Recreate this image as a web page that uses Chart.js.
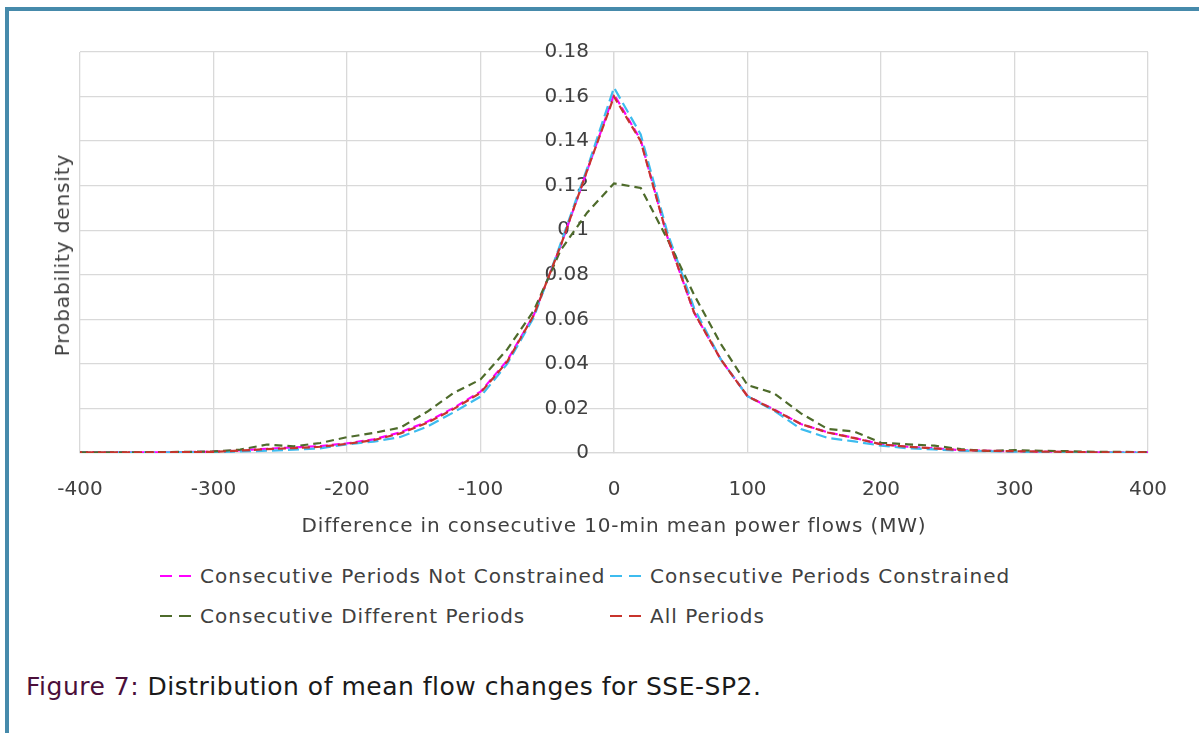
<!DOCTYPE html>
<html>
<head>
<meta charset="utf-8">
<script src="https://cdn.jsdelivr.net/npm/chart.js@4.4.1/dist/chart.umd.min.js"></script>
<style>
  html, body { margin: 0; padding: 0; background: #fff; width: 1199px; height: 733px; overflow: hidden; }
  body { position: relative; font-family: "DejaVu Sans", sans-serif; }
  .frame { position: absolute; left: 5px; top: 7px; width: 1300px; height: 800px;
           border-top: 4px solid #468aab; border-left: 4px solid #468aab; }
  #chart { position: absolute; left: 0; top: 0; }
  .ytitle { position: absolute; left: 62px; top: 255px; transform: translate(-50%, -50%) rotate(-90deg);
            white-space: nowrap; font-size: 20px; letter-spacing: 0.9px; color: #404040; }
  .xtitle { position: absolute; left: 614px; top: 525px; transform: translate(-50%, -50%);
            white-space: nowrap; font-size: 20px; letter-spacing: 0.85px; color: #404040; }
  .legend { position: absolute; left: 160px; top: 562px; color: #404040; font-size: 20px; letter-spacing: 1px; }
  .legend .item { position: absolute; white-space: nowrap; display: flex; align-items: center; height: 28px; }
  .legend svg { margin-right: 3px; }
  .caption { position: absolute; left: 26px; top: 672px; font-size: 25px; letter-spacing: 0.5px; color: #1a1a1a; white-space: nowrap; }
  .caption b { font-weight: normal; color: #4b0f3a; }
</style>
</head>
<body>
<div class="frame"></div>
<canvas id="chart" width="1199" height="545"></canvas>
<div class="ytitle">Probability density</div>
<div class="xtitle">Difference in consecutive 10-min mean power flows (MW)</div>
<div class="legend" id="legend"></div>
<div class="caption"><b>Figure 7:</b> Distribution of mean flow changes for SSE-SP2.</div>
<script>
// bins of the flow change (MW), 20 MW wide
const flowChange = [-400, -380, -360, -340, -320, -300, -280, -260, -240, -220, -200, -180, -160, -140, -120, -100, -80, -60, -40, -20,
  0, 20, 40, 60, 80, 100, 120, 140, 160, 180, 200, 220, 240, 260, 280, 300, 320, 340, 360, 380, 400];

const notConstrained = [0.0003, 0.0003, 0.0003, 0.0003, 0.0004, 0.0006, 0.0012, 0.0019, 0.0025, 0.0031, 0.0043, 0.0061, 0.0093, 0.0140, 0.0203, 0.0275, 0.0415, 0.062, 0.093, 0.127,
  0.161, 0.1405, 0.097, 0.063, 0.042, 0.0255, 0.0195, 0.0130, 0.0093, 0.0068, 0.0039, 0.0028, 0.0021, 0.0013, 0.0010, 0.0008, 0.0006, 0.0005, 0.0003, 0.0003, 0.0003];

const constrained = [0.0002, 0.0002, 0.0002, 0.0002, 0.0003, 0.0004, 0.0007, 0.0010, 0.0015, 0.0021, 0.0039, 0.0051, 0.0072, 0.0118, 0.0183, 0.0253, 0.040, 0.061, 0.094, 0.128,
  0.164, 0.143, 0.099, 0.065, 0.042, 0.0255, 0.0190, 0.0108, 0.0068, 0.0052, 0.0033, 0.0021, 0.0016, 0.0010, 0.0008, 0.0006, 0.0004, 0.0004, 0.0003, 0.0002, 0.0002];

const differentPeriods = [0.0003, 0.0003, 0.0003, 0.0004, 0.0005, 0.0007, 0.0015, 0.0038, 0.0030, 0.0045, 0.0071, 0.0090, 0.0114, 0.0185, 0.0270, 0.0330, 0.0465, 0.064, 0.091, 0.108,
  0.121, 0.119, 0.096, 0.071, 0.049, 0.0305, 0.0268, 0.0178, 0.0108, 0.0096, 0.0046, 0.0039, 0.0033, 0.0017, 0.0009, 0.0013, 0.0010, 0.0008, 0.0005, 0.0005, 0.0004];

const allPeriods = [0.0003, 0.0003, 0.0003, 0.0003, 0.0004, 0.0005, 0.0011, 0.0017, 0.0022, 0.0028, 0.0041, 0.0058, 0.0088, 0.0135, 0.0198, 0.0270, 0.041, 0.062, 0.093, 0.127,
  0.160, 0.140, 0.097, 0.063, 0.042, 0.0255, 0.0193, 0.0130, 0.0092, 0.0067, 0.0039, 0.0028, 0.0021, 0.0013, 0.0010, 0.0008, 0.0006, 0.0005, 0.0003, 0.0003, 0.0003];

const seriesNames = ['Consecutive Periods Not Constrained', 'Consecutive Periods Constrained', 'Consecutive Different Periods', 'All Periods'];
const seriesColors = ['#ff00ff', '#3dbcef', '#4e6b2b', '#c8342c'];
const seriesDash = [[8, 4], [11, 5], [8, 5], [8, 4]];

const xTicks = [-400, -300, -200, -100, 0, 100, 200, 300, 400];
const yTicks = [0, 0.02, 0.04, 0.06, 0.08, 0.1, 0.12, 0.14, 0.16, 0.18];

const seriesValues = [notConstrained, constrained, differentPeriods, allPeriods];

const datasets = seriesValues.map((vals, i) => ({
  label: seriesNames[i],
  data: vals.map((v, k) => ({ x: flowChange[k], y: v })),
  borderColor: seriesColors[i],
  borderWidth: 2.2,
  borderDash: seriesDash[i],
  borderDashOffset: i === 3 ? 6 : 0,
  pointRadius: 0,
  tension: 0,
  fill: false,
  order: 4 - i   // later series drawn on top
}));

const gridColor = '#d9d9d9';
const tickColor = '#404040';
const tickFont = { family: 'DejaVu Sans', size: 20 };

new Chart(document.getElementById('chart'), {
  type: 'line',
  data: { datasets },
  options: {
    responsive: false,
    animation: false,
    devicePixelRatio: 1,
    layout: { padding: { left: 80, right: 51, top: 52, bottom: 18 } },
    plugins: { legend: { display: false }, tooltip: { enabled: false } },
    scales: {
      x: {
        type: 'linear',
        min: -400,
        max: 400,
        afterBuildTicks: axis => { axis.ticks = xTicks.map(v => ({ value: v })); },
        ticks: { color: tickColor, font: tickFont, padding: 25, maxRotation: 0 },
        grid: { color: gridColor, lineWidth: 1.3, drawTicks: false },
        border: { color: gridColor, width: 1.3 }
      },
      y: {
        type: 'linear',
        // x range is symmetric, so the centre line is x = 0
        position: 'center',
        min: 0,
        max: 0.18,
        afterBuildTicks: axis => { axis.ticks = yTicks.map(v => ({ value: v })); },
        ticks: {
          color: tickColor,
          font: tickFont,
          padding: 25,
          callback: v => String(+v.toFixed(2))
        },
        grid: { color: gridColor, lineWidth: 1.3, drawTicks: false },
        border: { color: gridColor, width: 1.3 }
      }
    }
  }
});

// legend laid out in two columns
const legendPos = [[0, 0], [450, 0], [0, 40], [450, 40]];
const legend = document.getElementById('legend');
seriesNames.forEach((name, i) => {
  const item = document.createElement('div');
  item.className = 'item';
  item.style.left = legendPos[i][0] + 'px';
  item.style.top = legendPos[i][1] + 'px';
  item.innerHTML = `<svg width="37" height="4"><line x1="0" y1="2" x2="37" y2="2" stroke="${seriesColors[i]}" stroke-width="2" stroke-dasharray="12 7"/></svg>${name}`;
  legend.appendChild(item);
});
</script>
</body>
</html>
